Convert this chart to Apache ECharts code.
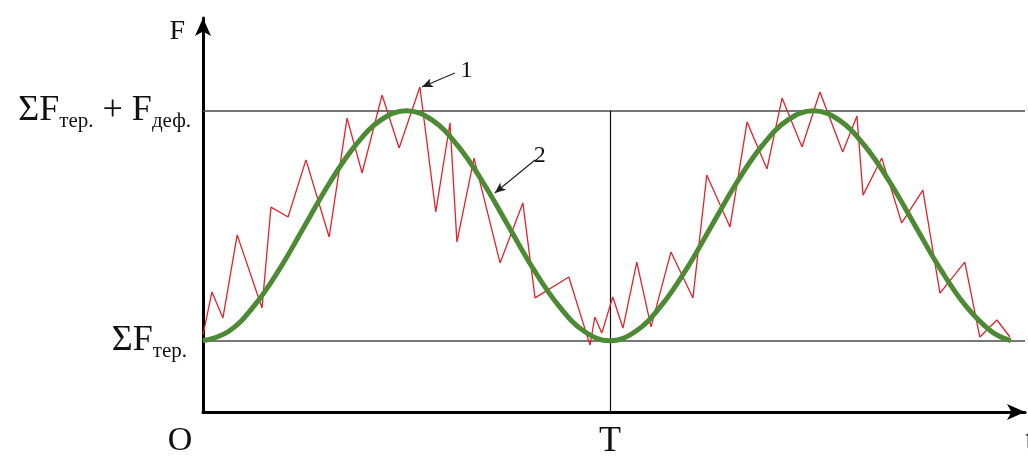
<!DOCTYPE html>
<html>
<head>
<meta charset="utf-8">
<script src="https://cdn.jsdelivr.net/npm/echarts@6/dist/echarts.min.js"></script>
<style>
  html, body { margin: 0; padding: 0; background: #fff; }
  #chart { width: 1028px; height: 456px; }
</style>
</head>
<body>
<div id="chart"></div>
<script>
// Time is measured in periods T, force in arbitrary units.
const tickLabels = ['O', 'T', 't'];
const fTer = 3.1;   // ΣF тер.
const fDef = 10;    // F деф.

// 1 — measured (jagged) force
const redT = [0, 0.022, 0.049, 0.084, 0.145, 0.167, 0.209, 0.253, 0.310, 0.354, 0.391, 0.440, 0.482,
  0.533, 0.572, 0.607, 0.624, 0.666, 0.730, 0.786, 0.816, 0.899, 0.951, 0.963, 0.980,
  1.007, 1.032, 1.066, 1.101, 1.150, 1.204, 1.238, 1.295, 1.337, 1.386, 1.423, 1.472,
  1.516, 1.572, 1.607, 1.622, 1.668, 1.717, 1.769, 1.811, 1.872, 1.909, 1.951, 1.983];
const redF = [3.35, 5.22, 4.09, 7.70, 4.52, 8.91, 8.48, 10.96, 7.61, 12.78, 10.39, 13.78, 11.48,
  14.13, 8.70, 12.57, 7.39, 11.04, 6.48, 9.09, 4.96, 5.87, 2.91, 4.13, 3.43,
  5.00, 3.65, 6.52, 3.70, 6.96, 4.96, 10.30, 8.04, 12.61, 10.57, 13.65, 11.52,
  13.91, 11.30, 12.87, 9.43, 11.04, 8.22, 9.65, 5.17, 6.52, 3.26, 4.00, 3.26];

// 2 — smooth periodic force
const greenT = [0, 0.0625, 0.125, 0.1875, 0.25, 0.3125, 0.375, 0.4375, 0.5,
  0.5625, 0.625, 0.6875, 0.75, 0.8125, 0.875, 0.9375, 1.0,
  1.0625, 1.125, 1.1875, 1.25, 1.3125, 1.375, 1.4375, 1.5,
  1.5625, 1.625, 1.6875, 1.75, 1.8125, 1.875, 1.9375, 1.985];
const greenF = [3.1, 3.5, 4.6, 6.2, 8.1, 10.0, 11.6, 12.7, 13.1,
  12.7, 11.6, 10.0, 8.1, 6.2, 4.6, 3.5, 3.1,
  3.5, 4.6, 6.2, 8.1, 10.0, 11.6, 12.7, 13.1,
  12.7, 11.6, 10.0, 8.1, 6.2, 4.6, 3.5, 3.1];

// pointer arrows: [label, from (t, F), to (t, F)]
const pointerLabels = ['1', '2'];
const pointerFrom = [[0.619, 14.74], [0.816, 10.96]];
const pointerTo = [[0.538, 14.13], [0.717, 9.52]];

const serif = '"Liberation Serif", "DejaVu Serif", serif';
const ink = '#111';

const rich = {
  b: { fontFamily: serif, fontSize: 36, color: ink },
  s: { fontFamily: serif, fontSize: 21, color: ink, padding: [22, 0, 0, 0] }
};

const zip = (a, b) => a.map((v, i) => [v, b[i]]);

const chart = echarts.init(document.getElementById('chart'), null, { renderer: 'canvas' });

chart.setOption({
  animation: false,
  backgroundColor: '#fff',
  grid: { left: 203, right: 3, top: 18, bottom: 44, containLabel: false, outerBoundsMode: 'none' },
  xAxis: {
    type: 'value', min: 0, max: 2.02, interval: 1,
    axisLine: { show: true, lineStyle: { color: '#000', width: 3 }, symbol: ['none', 'arrow'], symbolSize: [12, 18] },
    axisTick: { show: false },
    splitLine: { show: false },
    axisLabel: {
      margin: 12,
      formatter: v => '{' + ['o', 'm', 'e'][Math.round(v)] + '|' + tickLabels[Math.round(v)] + '}',
      rich: {
        o: { fontFamily: serif, fontSize: 34, color: ink, padding: [0, 46, 0, 0] },
        m: { fontFamily: serif, fontSize: 36, color: ink },
        e: { fontFamily: serif, fontSize: 34, color: ink, padding: [0, 0, 0, 26] }
      }
    }
  },
  yAxis: {
    type: 'value', min: 0, max: 17.13,
    name: 'F', nameLocation: 'end', nameGap: -14,
    nameTextStyle: { fontFamily: serif, fontSize: 28, color: ink, align: 'right', verticalAlign: 'middle', padding: [0, 18, 0, 0] },
    axisLine: { show: true, lineStyle: { color: '#000', width: 3 }, symbol: ['none', 'arrow'], symbolSize: [12, 18] },
    axisTick: { show: false },
    axisLabel: { show: false },
    splitLine: { show: false }
  },
  series: [
    {
      name: '1', type: 'line', data: zip(redT, redF), symbol: 'none', z: 3,
      lineStyle: { color: '#e3222b', width: 1.3 },
      markLine: {
        silent: true, symbol: 'none', z: 1,
        lineStyle: { color: '#4a4a4a', width: 1.6, type: 'solid' },
        label: { show: true, position: 'start', distance: 14, rich: rich },
        data: [
          { yAxis: fTer, label: { formatter: '{b|ΣF}{s|тер.}', distance: 16 } },
          { yAxis: fTer + fDef, label: { formatter: '{b|ΣF}{s|тер.}{b| + F}{s|деф.}', distance: 12 } },
          [
            { coord: [1, 0], lineStyle: { color: '#111', width: 1.2 }, label: { show: false } },
            { coord: [1, fTer + fDef] }
          ]
        ]
      }
    },
    {
      name: '2', type: 'line', data: zip(greenT, greenF), symbol: 'none', smooth: 0.4, z: 4,
      lineStyle: { color: '#4c8a34', width: 5 },
      markLine: {
        silent: true, symbol: ['none', 'arrow'], symbolSize: [7, 11], z: 6,
        lineStyle: { color: '#222', width: 1.2, type: 'solid' },
        label: { show: true, position: 'start', distance: 6, fontFamily: serif, fontSize: 24, color: ink },
        data: pointerLabels.map((lbl, i) => [
          { coord: pointerFrom[i], label: { formatter: lbl } },
          { coord: pointerTo[i] }
        ])
      }
    }
  ]
});
</script>
</body>
</html>
